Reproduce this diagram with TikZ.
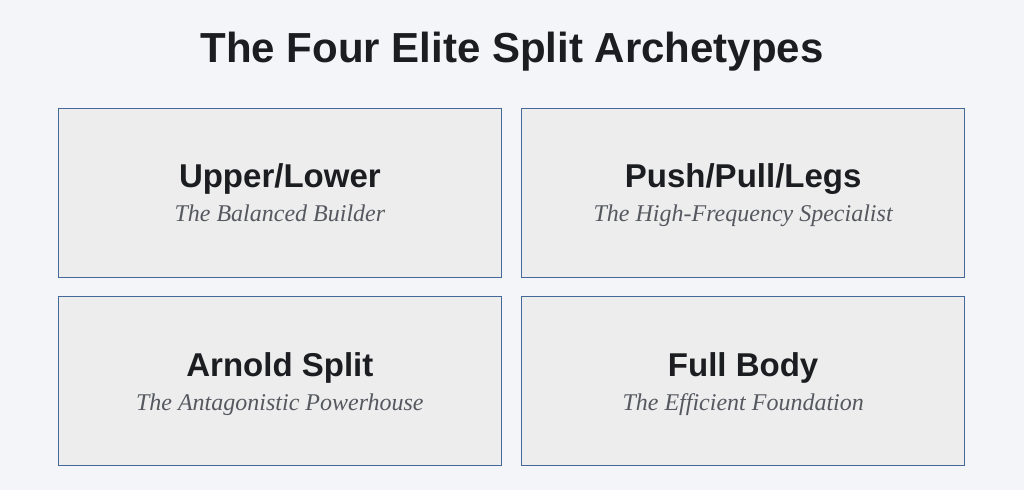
\documentclass[tikz,border=0pt]{standalone}
\usepackage{fontspec}
\setmainfont{Liberation Serif}
\setsansfont{Liberation Sans}
\usepackage{xcolor}
\usepackage{tikz}
\usetikzlibrary{matrix}

\definecolor{pagebg}{HTML}{F3F5F8}
\definecolor{cardfill}{HTML}{EDEDEE}
\definecolor{cardline}{HTML}{44689A}
\definecolor{inkdark}{HTML}{1C1D20}
\definecolor{inkgrey}{HTML}{55585E}

\newcommand{\headfont}{\fontsize{33}{34}\selectfont\sffamily\bfseries\color{inkdark}}
\newcommand{\subfont}{\fontsize{24}{34}\selectfont\itshape\color{inkgrey}}
\newcommand{\cardlabel}[2]{\vtop{\baselineskip=34pt\halign{\hfil##\hfil\cr{\headfont #1}\cr{\subfont #2}\cr}}}

\begin{document}
\begin{tikzpicture}[x=1pt,y=-1pt,
  card/.style={draw=cardline, line width=1.3pt, fill=cardfill, minimum width=443pt, minimum height=169pt,
    text height=30pt, text depth=40pt}]
  \fill[pagebg] (0,0) rectangle (1024,490);
  \node[anchor=base, font=\fontsize{42}{46}\selectfont\sffamily\bfseries, text=inkdark] (title) at (512,62) {The Four Elite Split Archetypes};
  \matrix (m) [matrix of nodes, nodes={card}, row sep=18pt, column sep=19pt, inner sep=0pt, anchor=north west] at (57.5,107.5)
  {
   \cardlabel{Upper/Lower}{The Balanced Builder} & \cardlabel{Push/Pull/Legs}{The High-Frequency Specialist} \\
   \cardlabel{Arnold Split}{The Antagonistic Powerhouse} & \cardlabel{Full Body}{The Efficient Foundation} \\
    };
\end{tikzpicture}
\end{document}
